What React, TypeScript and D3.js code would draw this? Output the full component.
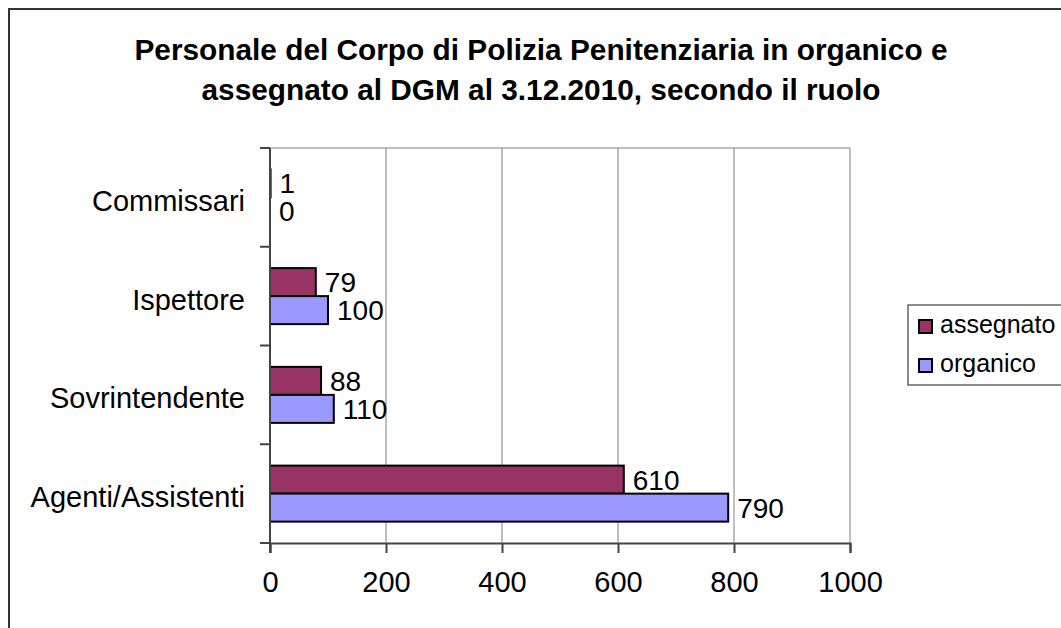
import React, { useRef, useEffect } from 'react';
import * as d3 from 'd3';

const categories = ['Commissari', 'Ispettore', 'Sovrintendente', 'Agenti/Assistenti'];
const seriesNames = ['assegnato', 'organico'];
const assegnato = [1, 79, 88, 610];
const organico = [0, 100, 110, 790];
const xTicks = [0, 200, 400, 600, 800, 1000];
const titleLines = [
  'Personale del Corpo di Polizia Penitenziaria in organico e',
  'assegnato al DGM al 3.12.2010, secondo il ruolo',
];
const colors = ['#993366', '#9999FF'];

const App = () => {
  const ref = useRef<SVGSVGElement>(null);

  useEffect(() => {
    const svg = d3.select(ref.current);
    svg.selectAll('*').remove();
    const font = 'Liberation Sans, Arial, sans-serif';

    // outer chart frame (runs off the right/bottom edge)
    svg.append('rect')
      .attr('x', 9).attr('y', 9)
      .attr('width', 1100).attr('height', 700)
      .attr('fill', '#fff')
      .attr('stroke', '#333').attr('stroke-width', 2);

    svg.append('g')
      .selectAll('text')
      .data(titleLines)
      .join('text')
      .attr('x', 541)
      .attr('y', (d, i) => 60 + i * 40)
      .attr('text-anchor', 'middle')
      .attr('font-family', font)
      .attr('font-weight', 'bold')
      .attr('font-size', 29.8)
      .text((d) => d);

    const left = 270, right = 850, top = 148, bottom = 543;

    const x = d3.scaleLinear().domain([0, 1000]).range([left, right]);
    const y = d3.scaleBand().domain(categories).range([top, bottom]);
    const inner = d3.scaleBand().domain(seriesNames).range([0, y.bandwidth()]).paddingOuter(0.763);

    // grid
    svg.append('g')
      .selectAll('line')
      .data(xTicks.slice(1))
      .join('line')
      .attr('x1', (d) => x(d)).attr('x2', (d) => x(d))
      .attr('y1', top).attr('y2', bottom)
      .attr('stroke', '#808080').attr('stroke-width', 1);
    svg.append('line')
      .attr('x1', left - 10).attr('x2', right)
      .attr('y1', top).attr('y2', top)
      .attr('stroke', '#808080');

    // bars
    const series = [assegnato, organico];
    series.forEach((vals, si) => {
      svg.append('g')
        .selectAll('rect')
        .data(vals)
        .join('rect')
        .attr('x', x(0))
        .attr('y', (d, i) => y(categories[i])! + inner(seriesNames[si])!)
        .attr('width', (d) => x(d) - x(0))
        .attr('height', inner.bandwidth())
        .attr('fill', colors[si])
        .attr('stroke', d => (d > 0 ? '#000' : 'none'))
        .attr('stroke-width', 2);

      svg.append('g')
        .selectAll('text')
        .data(vals)
        .join('text')
        .attr('x', (d) => x(d) + 9)
        .attr('y', (d, i) => y(categories[i])! + inner(seriesNames[si])! + inner.bandwidth() / 2)
        .attr('dy', '0.36em')
        .attr('font-family', font)
        .attr('font-size', 28)
        .text((d) => d);
    });

    // axes
    const xAxis = d3.axisBottom(x).tickValues(xTicks).tickFormat(d3.format('d')).tickSize(10).tickPadding(18);
    const gx = svg.append('g')
      .attr('transform', `translate(0,${bottom})`)
      .call(xAxis);
    gx.select('.domain').attr('stroke', '#444').attr('stroke-width', 2);
    gx.selectAll('.tick line').attr('stroke', '#444').attr('stroke-width', 2);
    gx.selectAll('text').attr('font-family', font).attr('font-size', 29).attr('fill', '#000');

    const yTickPos = [top, ...categories.map((c) => y(c)! + y.bandwidth())];
    svg.append('g')
      .selectAll('line')
      .data(yTickPos)
      .join('line')
      .attr('x1', left - 10).attr('x2', left)
      .attr('y1', (d) => d).attr('y2', (d) => d)
      .attr('stroke', '#444').attr('stroke-width', 2);
    svg.append('line')
      .attr('x1', left).attr('x2', left)
      .attr('y1', top).attr('y2', bottom + 10)
      .attr('stroke', '#444').attr('stroke-width', 2);

    svg.append('g')
      .selectAll('text')
      .data(categories)
      .join('text')
      .attr('x', 245)
      .attr('y', (d) => y(d)! + y.bandwidth() / 2 + 3)
      .attr('dy', '0.36em')
      .attr('text-anchor', 'end')
      .attr('font-family', font)
      .attr('font-size', 29)
      .text((d) => d);

    // legend
    const lg = svg.append('g');
    lg.append('rect')
      .attr('x', 908).attr('y', 305)
      .attr('width', 200).attr('height', 80)
      .attr('fill', '#fff')
      .attr('stroke', '#666').attr('stroke-width', 1.5);
    seriesNames.forEach((name, i) => {
      lg.append('rect')
        .attr('x', 919).attr('y', 320 + i * 39)
        .attr('width', 13).attr('height', 13)
        .attr('fill', colors[i])
        .attr('stroke', '#000').attr('stroke-width', 2);
      lg.append('text')
        .attr('x', 940).attr('y', 333 + i * 39)
        .attr('font-family', font)
        .attr('font-size', 25)
        .text(name);
    });
  }, []);

  return (
    <div style={{ position: 'absolute', left: 0, top: 0 }}>
      <svg ref={ref} width={1061} height={628} style={{ display: 'block' }}></svg>
    </div>
  );
};

export default App;
